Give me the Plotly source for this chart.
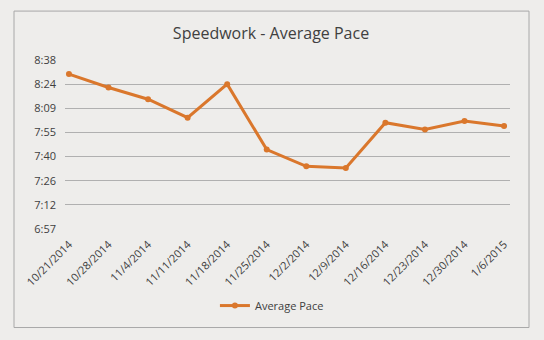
import plotly.graph_objects as go

# Weekly speedwork sessions and their average pace (seconds per mile)
dates = ["10/21/2014", "10/28/2014", "11/4/2014", "11/11/2014", "11/18/2014",
         "11/25/2014", "12/2/2014", "12/9/2014", "12/16/2014", "12/23/2014",
         "12/30/2014", "1/6/2015"]
pace_seconds = [510, 502, 495, 484, 504, 465, 455, 454, 481, 477, 482, 479]

# Axis ticks every 14.4 s, labelled m:ss (truncated)
tick_values = [417.6, 432.0, 446.4, 460.8, 475.2, 489.6, 504.0, 518.4]
tick_labels = ["6:57", "7:12", "7:26", "7:40", "7:55", "8:09", "8:24", "8:38"]

orange = "#DA772C"
bg = "#EEEDEB"
text_col = "#404040"
font_family = "Open Sans, Noto Sans, sans-serif"

def fmt(s):
    return f"{int(s // 60)}:{int(s % 60):02d}"

fig = go.Figure()
fig.add_trace(go.Scatter(
    x=list(range(len(dates))),
    y=pace_seconds,
    mode="lines+markers",
    name="Average Pace",
    line=dict(color=orange, width=3),
    marker=dict(color=orange, size=6),
    text=[fmt(s) for s in pace_seconds],
    hovertemplate="%{customdata}: %{text}<extra></extra>",
    customdata=dates,
))

fig.update_layout(
    width=544, height=340,
    margin=dict(l=65, r=34, t=60, b=110.7),
    paper_bgcolor=bg, plot_bgcolor=bg,
    font=dict(family=font_family, color=text_col, size=11),
    title=dict(text="Speedwork - Average Pace", x=271 / 544, xanchor="center",
               y=1 - 33 / 340, yanchor="middle",
               font=dict(size=16, color=text_col, family=font_family)),
    showlegend=True,
    legend=dict(orientation="h", x=0.465, xanchor="center",
                y=-0.453, yanchor="middle", bgcolor="rgba(0,0,0,0)",
                font=dict(size=11, color=text_col)),
    xaxis=dict(
        tickmode="array", tickvals=list(range(len(dates))), ticktext=dates,
        tickangle=-45, range=[-0.1, 11.15], showgrid=False, zeroline=False,
        showline=False, ticks="", ticklabelstandoff=6,
        tickfont=dict(size=11, color=text_col),
    ),
    yaxis=dict(
        tickmode="array", tickvals=tick_values, ticktext=tick_labels,
        range=[417.6, 518.4], showgrid=True, gridcolor="#B0B0B0", gridwidth=1,
        zeroline=False, showline=False, ticks="", ticklen=0,
        ticklabelstandoff=8,
        tickfont=dict(size=11, color=text_col),
    ),
    shapes=[dict(
        type="rect", xref="paper", yref="paper",
        x0=-0.1146, x1=1.0427, y0=-0.583, y1=1.2894,
        line=dict(color="#A8A8A8", width=1), fillcolor="rgba(0,0,0,0)",
        layer="below",
    )],
)

fig.write_html("out.html")
